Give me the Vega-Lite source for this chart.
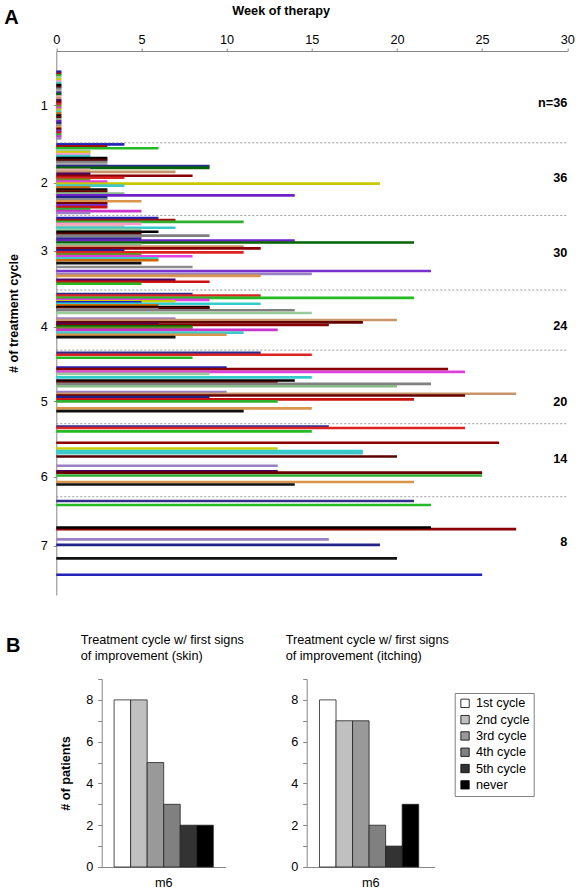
{
  "$schema": "https://vega.github.io/schema/vega-lite/v6.json",
  "background": "white",
  "padding": {"left": 3.7, "top": 4, "right": 0, "bottom": 0},
  "spacing": 39,
  "resolve": {"scale": {"color": "independent", "x": "independent", "y": "independent"}},
  "config": {
    "font": "Liberation Sans",
    "view": {"stroke": null},
    "axis": {"domainColor": "#868686", "tickColor": "#868686", "labelColor": "#000000", "titleColor": "#000000", "grid": false, "labelFontSize": 12.7, "titleFontSize": 12.7}
  },
  "datasets": {
    "bars": [
      {"cycle": 1, "patient": "P01", "weeks": 0.3, "pos": 8.0},
      {"cycle": 1, "patient": "P02", "weeks": 0.3, "pos": 9.0},
      {"cycle": 1, "patient": "P03", "weeks": 0.3, "pos": 9.9},
      {"cycle": 1, "patient": "P04", "weeks": 0.3, "pos": 10.9},
      {"cycle": 1, "patient": "P05", "weeks": 0.3, "pos": 11.9},
      {"cycle": 1, "patient": "P06", "weeks": 0.3, "pos": 12.9},
      {"cycle": 1, "patient": "P07", "weeks": 0.3, "pos": 13.8},
      {"cycle": 1, "patient": "P08", "weeks": 0.3, "pos": 14.8},
      {"cycle": 1, "patient": "P09", "weeks": 0.3, "pos": 15.8},
      {"cycle": 1, "patient": "P10", "weeks": 0.3, "pos": 16.7},
      {"cycle": 1, "patient": "P11", "weeks": 0.3, "pos": 17.7},
      {"cycle": 1, "patient": "P12", "weeks": 0.3, "pos": 18.7},
      {"cycle": 1, "patient": "P13", "weeks": 0.3, "pos": 19.6},
      {"cycle": 1, "patient": "P14", "weeks": 0.3, "pos": 20.6},
      {"cycle": 1, "patient": "P15", "weeks": 0.3, "pos": 21.6},
      {"cycle": 1, "patient": "P16", "weeks": 0.3, "pos": 22.6},
      {"cycle": 1, "patient": "P17", "weeks": 0.3, "pos": 23.5},
      {"cycle": 1, "patient": "P18", "weeks": 0.3, "pos": 24.5},
      {"cycle": 1, "patient": "P19", "weeks": 0.3, "pos": 25.5},
      {"cycle": 1, "patient": "P20", "weeks": 0.3, "pos": 26.4},
      {"cycle": 1, "patient": "P21", "weeks": 0.3, "pos": 27.4},
      {"cycle": 1, "patient": "P22", "weeks": 0.3, "pos": 28.4},
      {"cycle": 1, "patient": "P23", "weeks": 0.3, "pos": 29.3},
      {"cycle": 1, "patient": "P24", "weeks": 0.3, "pos": 30.3},
      {"cycle": 1, "patient": "P25", "weeks": 0.3, "pos": 31.3},
      {"cycle": 1, "patient": "P26", "weeks": 0.3, "pos": 32.3},
      {"cycle": 1, "patient": "P27", "weeks": 0.3, "pos": 33.2},
      {"cycle": 1, "patient": "P28", "weeks": 0.3, "pos": 34.2},
      {"cycle": 1, "patient": "P29", "weeks": 0.3, "pos": 35.2},
      {"cycle": 1, "patient": "P30", "weeks": 0.3, "pos": 36.1},
      {"cycle": 1, "patient": "P31", "weeks": 0.3, "pos": 37.1},
      {"cycle": 1, "patient": "P32", "weeks": 0.3, "pos": 38.1},
      {"cycle": 1, "patient": "P33", "weeks": 0.3, "pos": 39.0},
      {"cycle": 1, "patient": "P34", "weeks": 0.3, "pos": 40.0},
      {"cycle": 1, "patient": "P35", "weeks": 0.3, "pos": 41.0},
      {"cycle": 1, "patient": "P36", "weeks": 0.3, "pos": 42.0},

      {"cycle": 2, "patient": "P01", "weeks": 4, "pos": 45},
      {"cycle": 2, "patient": "P02", "weeks": 3, "pos": 46},
      {"cycle": 2, "patient": "P03", "weeks": 6, "pos": 47},
      {"cycle": 2, "patient": "P04", "weeks": 2, "pos": 48},
      {"cycle": 2, "patient": "P05", "weeks": 2, "pos": 49},
      {"cycle": 2, "patient": "P06", "weeks": 2, "pos": 50},
      {"cycle": 2, "patient": "P07", "weeks": 2, "pos": 51},
      {"cycle": 2, "patient": "P08", "weeks": 3, "pos": 52},
      {"cycle": 2, "patient": "P09", "weeks": 3, "pos": 53},
      {"cycle": 2, "patient": "P10", "weeks": 3, "pos": 54},
      {"cycle": 2, "patient": "P11", "weeks": 3, "pos": 55},
      {"cycle": 2, "patient": "P12", "weeks": 9, "pos": 56},
      {"cycle": 2, "patient": "P13", "weeks": 9, "pos": 57},
      {"cycle": 2, "patient": "P14", "weeks": 2, "pos": 58},
      {"cycle": 2, "patient": "P15", "weeks": 7, "pos": 59},
      {"cycle": 2, "patient": "P16", "weeks": 2, "pos": 60},
      {"cycle": 2, "patient": "P17", "weeks": 8, "pos": 61},
      {"cycle": 2, "patient": "P18", "weeks": 4, "pos": 62},
      {"cycle": 2, "patient": "P19", "weeks": 2, "pos": 63},
      {"cycle": 2, "patient": "P20", "weeks": 3, "pos": 64},
      {"cycle": 2, "patient": "P21", "weeks": 19, "pos": 65},
      {"cycle": 2, "patient": "P22", "weeks": 4, "pos": 66},
      {"cycle": 2, "patient": "P23", "weeks": 2, "pos": 67},
      {"cycle": 2, "patient": "P24", "weeks": 3, "pos": 68},
      {"cycle": 2, "patient": "P25", "weeks": 3, "pos": 69},
      {"cycle": 2, "patient": "P26", "weeks": 4, "pos": 70},
      {"cycle": 2, "patient": "P27", "weeks": 14, "pos": 71},
      {"cycle": 2, "patient": "P28", "weeks": 3, "pos": 72},
      {"cycle": 2, "patient": "P29", "weeks": 3, "pos": 73},
      {"cycle": 2, "patient": "P30", "weeks": 5, "pos": 74},
      {"cycle": 2, "patient": "P31", "weeks": 3, "pos": 75},
      {"cycle": 2, "patient": "P32", "weeks": 3, "pos": 76},
      {"cycle": 2, "patient": "P33", "weeks": 3, "pos": 77},
      {"cycle": 2, "patient": "P34", "weeks": 2, "pos": 78},
      {"cycle": 2, "patient": "P35", "weeks": 5, "pos": 79},
      {"cycle": 2, "patient": "P36", "weeks": 2, "pos": 80},

      {"cycle": 3, "patient": "P01", "weeks": 6, "pos": 82.5},
      {"cycle": 3, "patient": "P02", "weeks": 7, "pos": 83.5},
      {"cycle": 3, "patient": "P34", "weeks": 11, "pos": 84.5},
      {"cycle": 3, "patient": "P06", "weeks": 5, "pos": 85.5},
      {"cycle": 3, "patient": "P14", "weeks": 4, "pos": 86.5},
      {"cycle": 3, "patient": "P07", "weeks": 7, "pos": 87.5},
      {"cycle": 3, "patient": "P04", "weeks": 5, "pos": 88.5},
      {"cycle": 3, "patient": "P08", "weeks": 6, "pos": 89.5},
      {"cycle": 3, "patient": "P09", "weeks": 5, "pos": 90.5},
      {"cycle": 3, "patient": "P10", "weeks": 9, "pos": 91.5},
      {"cycle": 3, "patient": "P12", "weeks": 5, "pos": 93},
      {"cycle": 3, "patient": "P27", "weeks": 14, "pos": 94},
      {"cycle": 3, "patient": "P13", "weeks": 21, "pos": 95},
      {"cycle": 3, "patient": "P26", "weeks": 5, "pos": 96},
      {"cycle": 3, "patient": "P15", "weeks": 11, "pos": 97},
      {"cycle": 3, "patient": "P17", "weeks": 12, "pos": 98},
      {"cycle": 3, "patient": "P28", "weeks": 4, "pos": 99},
      {"cycle": 3, "patient": "P18", "weeks": 11, "pos": 100},
      {"cycle": 3, "patient": "P19", "weeks": 5, "pos": 101},
      {"cycle": 3, "patient": "P20", "weeks": 8, "pos": 102},
      {"cycle": 3, "patient": "P22", "weeks": 6, "pos": 103},
      {"cycle": 3, "patient": "P23", "weeks": 6, "pos": 104},
      {"cycle": 3, "patient": "P24", "weeks": 5, "pos": 105.5},
      {"cycle": 3, "patient": "P29", "weeks": 8, "pos": 107.5},
      {"cycle": 3, "patient": "P32", "weeks": 22, "pos": 109.5},
      {"cycle": 3, "patient": "P36", "weeks": 15, "pos": 111},
      {"cycle": 3, "patient": "P30", "weeks": 12, "pos": 112},
      {"cycle": 3, "patient": "P16", "weeks": 7, "pos": 114},
      {"cycle": 3, "patient": "P33", "weeks": 9, "pos": 115},
      {"cycle": 3, "patient": "P03", "weeks": 5, "pos": 116},

      {"cycle": 4, "patient": "P12", "weeks": 8, "pos": 121.2},
      {"cycle": 4, "patient": "P18", "weeks": 12, "pos": 122},
      {"cycle": 4, "patient": "P03", "weeks": 21, "pos": 123.2},
      {"cycle": 4, "patient": "P20", "weeks": 9, "pos": 124.2},
      {"cycle": 4, "patient": "P05", "weeks": 7, "pos": 124.9},
      {"cycle": 4, "patient": "P01", "weeks": 5, "pos": 125.5},
      {"cycle": 4, "patient": "P07", "weeks": 12, "pos": 126.2},
      {"cycle": 4, "patient": "P23", "weeks": 6, "pos": 127},
      {"cycle": 4, "patient": "P08", "weeks": 9, "pos": 127.9},
      {"cycle": 4, "patient": "P09", "weeks": 9, "pos": 128.5},
      {"cycle": 4, "patient": "P11", "weeks": 6, "pos": 129.1},
      {"cycle": 4, "patient": "P10", "weeks": 14, "pos": 129.5},
      {"cycle": 4, "patient": "P04", "weeks": 15, "pos": 130.9},
      {"cycle": 4, "patient": "P36", "weeks": 7, "pos": 133.7},
      {"cycle": 4, "patient": "P15", "weeks": 20, "pos": 134.5},
      {"cycle": 4, "patient": "P25", "weeks": 18, "pos": 135.7},
      {"cycle": 4, "patient": "P16", "weeks": 6, "pos": 136.4},
      {"cycle": 4, "patient": "P17", "weeks": 16, "pos": 137},
      {"cycle": 4, "patient": "P13", "weeks": 8, "pos": 137.7},
      {"cycle": 4, "patient": "P19", "weeks": 8, "pos": 138.4},
      {"cycle": 4, "patient": "P35", "weeks": 13, "pos": 139.5},
      {"cycle": 4, "patient": "P22", "weeks": 11, "pos": 140.9},
      {"cycle": 4, "patient": "P30", "weeks": 10, "pos": 142},
      {"cycle": 4, "patient": "P24", "weeks": 7, "pos": 143.2},

      {"cycle": 5, "patient": "P12", "weeks": 12, "pos": 151.2},
      {"cycle": 5, "patient": "P18", "weeks": 15, "pos": 152.2},
      {"cycle": 5, "patient": "P03", "weeks": 8, "pos": 153.7},
      {"cycle": 5, "patient": "P01", "weeks": 10, "pos": 158.7},
      {"cycle": 5, "patient": "P17", "weeks": 23, "pos": 159.5},
      {"cycle": 5, "patient": "P20", "weeks": 24, "pos": 160.9},
      {"cycle": 5, "patient": "P04", "weeks": 9, "pos": 161.9},
      {"cycle": 5, "patient": "P07", "weeks": 15, "pos": 163.7},
      {"cycle": 5, "patient": "P08", "weeks": 14, "pos": 165.3},
      {"cycle": 5, "patient": "P09", "weeks": 13, "pos": 166.2},
      {"cycle": 5, "patient": "P10", "weeks": 22, "pos": 167},
      {"cycle": 5, "patient": "P26", "weeks": 20, "pos": 168.2},
      {"cycle": 5, "patient": "P36", "weeks": 10, "pos": 171.2},
      {"cycle": 5, "patient": "P15", "weeks": 27, "pos": 172},
      {"cycle": 5, "patient": "P25", "weeks": 24, "pos": 172.9},
      {"cycle": 5, "patient": "P28", "weeks": 9, "pos": 173.7},
      {"cycle": 5, "patient": "P33", "weeks": 21, "pos": 174.9},
      {"cycle": 5, "patient": "P34", "weeks": 13, "pos": 175.9},
      {"cycle": 5, "patient": "P30", "weeks": 15, "pos": 179.5},
      {"cycle": 5, "patient": "P24", "weeks": 11, "pos": 180.9},

      {"cycle": 6, "patient": "P12", "weeks": 16, "pos": 188.7},
      {"cycle": 6, "patient": "P18", "weeks": 24, "pos": 189.5},
      {"cycle": 6, "patient": "P03", "weeks": 15, "pos": 191.2},
      {"cycle": 6, "patient": "P17", "weeks": 26, "pos": 197},
      {"cycle": 6, "patient": "P05", "weeks": 13, "pos": 199.9},
      {"cycle": 6, "patient": "P07", "weeks": 18, "pos": 201.2},
      {"cycle": 6, "patient": "P22", "weeks": 18, "pos": 202.3},
      {"cycle": 6, "patient": "P09", "weeks": 20, "pos": 204},
      {"cycle": 6, "patient": "P36", "weeks": 13, "pos": 208.7},
      {"cycle": 6, "patient": "P16", "weeks": 13, "pos": 211.5},
      {"cycle": 6, "patient": "P25", "weeks": 25, "pos": 212.2},
      {"cycle": 6, "patient": "P34", "weeks": 25, "pos": 213.7},
      {"cycle": 6, "patient": "P30", "weeks": 21, "pos": 217},
      {"cycle": 6, "patient": "P24", "weeks": 14, "pos": 218.3},

      {"cycle": 7, "patient": "P12", "weeks": 21, "pos": 226.7},
      {"cycle": 7, "patient": "P03", "weeks": 22, "pos": 228.7},
      {"cycle": 7, "patient": "P17", "weeks": 27, "pos": 241},
      {"cycle": 7, "patient": "P08", "weeks": 22, "pos": 240.2},
      {"cycle": 7, "patient": "P36", "weeks": 16, "pos": 246.2},
      {"cycle": 7, "patient": "P28", "weeks": 19, "pos": 249},
      {"cycle": 7, "patient": "P24", "weeks": 20, "pos": 255.9},
      {"cycle": 7, "patient": "P01", "weeks": 25, "pos": 264.2}
    ],
    "seps": [
      {"pos": 44.2}, {"pos": 81.2}, {"pos": 119.2}, {"pos": 149.8}, {"pos": 187.3}, {"pos": 224.5}
    ],
    "nlab": [
      {"label": "n=36", "pos": 24},
      {"label": "36", "pos": 62},
      {"label": "30", "pos": 100.5},
      {"label": "24", "pos": 137.5},
      {"label": "20", "pos": 176},
      {"label": "14", "pos": 205.3},
      {"label": "8", "pos": 247.8}
    ],
    "skin": [
      {"group": "m6", "cycle": "1st cycle", "n": 8},
      {"group": "m6", "cycle": "2nd cycle", "n": 8},
      {"group": "m6", "cycle": "3rd cycle", "n": 5},
      {"group": "m6", "cycle": "4th cycle", "n": 3},
      {"group": "m6", "cycle": "5th cycle", "n": 2},
      {"group": "m6", "cycle": "never", "n": 2}
    ],
    "itching": [
      {"group": "m6", "cycle": "1st cycle", "n": 8},
      {"group": "m6", "cycle": "2nd cycle", "n": 7},
      {"group": "m6", "cycle": "3rd cycle", "n": 7},
      {"group": "m6", "cycle": "4th cycle", "n": 2},
      {"group": "m6", "cycle": "5th cycle", "n": 1},
      {"group": "m6", "cycle": "never", "n": 3}
    ]
  },
  "vconcat": [
    {
      "title": {"text": "A", "anchor": "start", "frame": "bounds", "fontSize": 20, "fontWeight": "bold", "dx": -3, "dy": 24, "offset": 0},
      "width": 465.6,
      "height": 544,
      "layer": [
        {
          "data": {"name": "bars"},
          "mark": {"type": "bar", "orient": "horizontal", "size": 2.6},
          "encoding": {
            "x": {
              "field": "weeks", "type": "quantitative",
              "scale": {"domain": [0, 30], "nice": false, "range": [-45.4, 465.6]},
              "axis": {
                "orient": "top", "title": "Week of therapy", "titleFontWeight": "bold", "titlePadding": 16, "titleX": 179,
                "values": [0, 2.5, 5, 7.5, 10, 12.5, 15, 17.5, 20, 22.5, 25, 27.5, 30],
                "labelExpr": "datum.value % 5 === 0 ? datum.label : ''",
                "labelOverlap": false, "labelFlush": false, "tickSize": 3, "labelPadding": 2
              }
            },
            "y": {
              "field": "pos", "type": "quantitative",
              "scale": {"domain": [0, 272], "reverse": true, "nice": false, "zero": false},
              "axis": {
                "title": "# of treatment cycle", "titleFontWeight": "bold", "titlePadding": 20, "offset": 45.4, "titleY": 262,
                "values": [25, 64.5, 99.2, 137.8, 175.8, 214.2, 249.5],
                "labelExpr": "datum.value < 40 ? '1' : datum.value < 80 ? '2' : datum.value < 120 ? '3' : datum.value < 155 ? '4' : datum.value < 195 ? '5' : datum.value < 230 ? '6' : '7'",
                "labelOverlap": false, "tickSize": 3, "labelPadding": 6
              }
            },
            "color": {
              "field": "patient", "type": "nominal", "legend": null,
              "scale": {
                "domain": ["P01","P02","P03","P04","P05","P06","P07","P08","P09","P10","P11","P12","P13","P14","P15","P16","P17","P18","P19","P20","P21","P22","P23","P24","P25","P26","P27","P28","P29","P30","P31","P32","P33","P34","P35","P36"],
                "range": ["#2222BB","#A01010","#22BB22","#99CC99","#CCCC00","#FF99CC","#33CCCC","#000000","#5A0000","#808080","#AAAAAA","#2E2E8F","#006400","#E8B0B0","#C8956A","#4B0066","#8B0000","#DD2222","#6B8E23","#E040E0","#C8C800","#40C8C8","#CC6600","#101010","#660000","#88BB88","#7020C8","#22228A","#8C8C8C","#D9964A","#700000","#7A30D0","#CC1111","#30B030","#CC33CC","#9B7FC4"]
              }
            }
          }
        },
        {
          "data": {"name": "seps"},
          "mark": {"type": "rule", "strokeDash": [2, 2], "color": "#9A9A9A", "strokeWidth": 1},
          "encoding": {
            "y": {"field": "pos", "type": "quantitative"},
            "x": {"datum": 0},
            "x2": {"datum": 30}
          }
        },
        {
          "data": {"name": "nlab"},
          "mark": {"type": "text", "align": "right", "baseline": "middle", "fontWeight": "bold", "fontSize": 12.7, "color": "#000000"},
          "encoding": {
            "x": {"datum": 30},
            "y": {"field": "pos", "type": "quantitative"},
            "text": {"field": "label"}
          }
        }
      ]
    },
    {
      "title": {"text": "B", "anchor": "start", "frame": "bounds", "fontSize": 20, "fontWeight": "bold", "dx": -53.6, "dy": 22, "offset": 0},
      "spacing": 41,
      "resolve": {"scale": {"color": "independent"}},
      "hconcat": [
        {
          "width": 124,
          "height": 188,
          "title": {"text": ["Treatment cycle w/ first signs", "of improvement (skin)"], "anchor": "start", "frame": "group", "dx": -21, "fontSize": 12.7, "fontWeight": "normal", "lineHeight": 16, "offset": 10},
          "data": {"name": "skin"},
          "mark": {"type": "bar", "stroke": "#222222", "strokeWidth": 0.8},
          "encoding": {
            "x": {"field": "group", "type": "nominal", "scale": {"paddingInner": 0, "paddingOuter": 0.125}, "axis": {"title": null, "labelAngle": 0, "ticks": false, "labelPadding": 10}},
            "xOffset": {"field": "cycle", "type": "nominal", "sort": ["1st cycle","2nd cycle","3rd cycle","4th cycle","5th cycle","never"], "scale": {"paddingInner": 0, "paddingOuter": 0}},
            "y": {"field": "n", "type": "quantitative", "scale": {"domain": [0, 9], "nice": false}, "axis": {"title": "# of patients", "titleFontWeight": "bold", "titlePadding": 13, "values": [0,1,2,3,4,5,6,7,8,9], "labelExpr": "datum.value % 2 === 0 ? datum.label : ''", "labelOverlap": false, "tickSize": 4, "labelPadding": 5}},
            "color": {"field": "cycle", "type": "nominal", "legend": null, "scale": {"domain": ["1st cycle","2nd cycle","3rd cycle","4th cycle","5th cycle","never"], "range": ["#FFFFFF","#C0C0C0","#999999","#808080","#333333","#000000"]}}
          }
        },
        {
          "width": 128,
          "height": 188,
          "title": {"text": ["Treatment cycle w/ first signs", "of improvement (itching)"], "anchor": "start", "frame": "group", "dx": -21, "fontSize": 12.7, "fontWeight": "normal", "lineHeight": 16, "offset": 10},
          "data": {"name": "itching"},
          "mark": {"type": "bar", "stroke": "#222222", "strokeWidth": 0.8},
          "encoding": {
            "x": {"field": "group", "type": "nominal", "scale": {"paddingInner": 0, "paddingOuter": 0.125}, "axis": {"title": null, "labelAngle": 0, "ticks": false, "labelPadding": 10}},
            "xOffset": {"field": "cycle", "type": "nominal", "sort": ["1st cycle","2nd cycle","3rd cycle","4th cycle","5th cycle","never"], "scale": {"paddingInner": 0, "paddingOuter": 0}},
            "y": {"field": "n", "type": "quantitative", "scale": {"domain": [0, 9], "nice": false}, "axis": {"title": null, "values": [0,1,2,3,4,5,6,7,8,9], "labelExpr": "datum.value % 2 === 0 ? datum.label : ''", "labelOverlap": false, "tickSize": 4, "labelPadding": 5}},
            "color": {
              "field": "cycle", "type": "nominal",
              "scale": {"domain": ["1st cycle","2nd cycle","3rd cycle","4th cycle","5th cycle","never"], "range": ["#FFFFFF","#C0C0C0","#999999","#808080","#333333","#000000"]},
              "legend": {"orient": "none", "legendX": 148, "legendY": 14, "title": null, "strokeColor": "#808080", "fillColor": "#FFFFFF", "padding": 4, "symbolType": "square", "symbolSize": 70, "symbolStrokeColor": "#000000", "symbolStrokeWidth": 0.8, "symbolOpacity": 1, "labelFontSize": 12.7, "labelColor": "#000000", "rowPadding": 2.3, "labelOffset": 4.5}
            }
          }
        }
      ]
    }
  ]
}
